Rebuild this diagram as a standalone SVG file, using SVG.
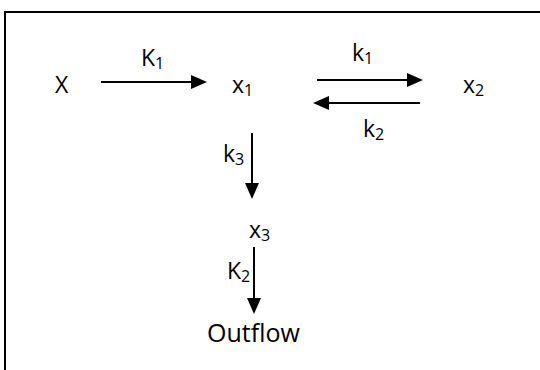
<svg xmlns="http://www.w3.org/2000/svg" width="540" height="370" viewBox="0 0 540 370">
  <style>
    text { font-family: "Open Sans", "Liberation Sans", sans-serif; fill: #000; }
    .lbl { font-size: 23px; }
    .sub { font-size: 16px; }
    .edge { stroke: #000; stroke-width: 2; fill: none; }
  </style>
  <defs>
    <marker id="ah" markerUnits="userSpaceOnUse" markerWidth="16" markerHeight="14" refX="5" refY="7" orient="auto">
      <path d="M0,0 L16,7 L0,14 z" fill="#000"/>
    </marker>
  </defs>
  <rect width="540" height="370" fill="#fff"/>
  <path d="M5,370 V12 H540" stroke="#000" stroke-width="2" fill="none"/>

  <g id="connectors">
    <path class="edge" d="M101,82 H196" marker-end="url(#ah)"/>
    <path class="edge" d="M317,80 H412" marker-end="url(#ah)"/>
    <path class="edge" d="M420,103 H324" marker-end="url(#ah)"/>
    <path class="edge" d="M252,133 V188" marker-end="url(#ah)"/>
    <path class="edge" d="M254,247 V303" marker-end="url(#ah)"/>
    <text class="lbl" x="141" y="66">K<tspan class="sub" dy="3">1</tspan></text>
    <text class="lbl" x="352" y="61">k<tspan class="sub" dy="3">1</tspan></text>
    <text class="lbl" x="363" y="137">k<tspan class="sub" dy="3">2</tspan></text>
    <text class="lbl" x="223" y="162">k<tspan class="sub" dy="3">3</tspan></text>
    <text class="lbl" x="227" y="279">K<tspan class="sub" dy="3">2</tspan></text>
  </g>

  <g id="node-X"><text class="lbl" x="55" y="93">X</text></g>
  <g id="node-x1"><text class="lbl" x="232" y="93">x<tspan class="sub" dy="3">1</tspan></text></g>
  <g id="node-x2"><text class="lbl" x="463" y="93">x<tspan class="sub" dy="3">2</tspan></text></g>
  <g id="node-x3"><text class="lbl" x="249" y="238">x<tspan class="sub" dy="3">3</tspan></text></g>
  <g id="node-outflow"><text x="207" y="342" style="font-size:25px">Outflow</text></g>
</svg>
